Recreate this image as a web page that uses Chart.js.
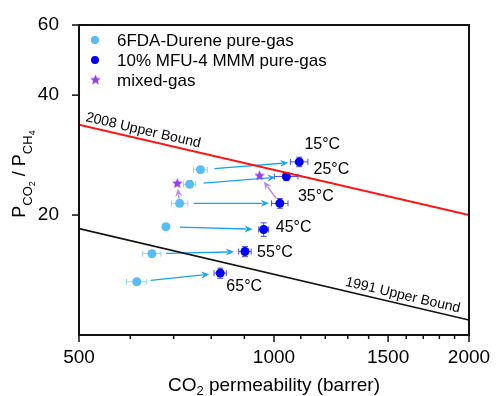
<!DOCTYPE html>
<html>
<head>
<meta charset="utf-8">
<script src="https://cdn.jsdelivr.net/npm/chart.js@4.4.0/dist/chart.umd.min.js"></script>
<style>
  html, body { margin: 0; padding: 0; background: #fff; }
  #wrap { width: 497px; height: 396px; }
</style>
</head>
<body>
<div id="wrap"><canvas id="c"></canvas></div>
<script>
// ---------- data ----------
const temps   = ['15°C', '25°C', '35°C', '45°C', '55°C', '65°C'];
const durX    = [770, 741, 715, 681, 648, 614];          // 6FDA-Durene, CO2 permeability
const durY    = [26.0, 23.9, 21.4, 18.7, 16.0, 13.6];    // CO2/CH4 selectivity
const durXErr = [19, 16, 21, 6, 21, 22];
const durYErr = [0.4, 0.4, 0.35, 0.2, 0.3, 0.25];
const mmmX    = [1094, 1045, 1021, 964, 902, 826];       // 10% MFU-4 MMM
const mmmY    = [27.2, 25.0, 21.4, 18.4, 16.2, 14.3];
const mmmXErr = [34, 44, 30, 17, 20, 18];
const mmmYErr = [0.75, 0.6, 0.6, 0.72, 0.47, 0.42];
const mixX    = [709, 950];                              // mixed-gas (35°C)
const mixY    = [24.0, 25.1];
const bound2008X = [500, 2000], bound2008Y = [33.7, 20.0];
const bound1991X = [500, 2000], bound1991Y = [18.5, 10.9];
const xTicks = [500, 1000, 1500, 2000];
const yTicks = [20, 40, 60];

// ---------- styles ----------
const FONT = 'Arial, "Liberation Sans", sans-serif';
const LIGHT = '#56bdf6', LIGHT_ERR = '#8fd2fb';
const DARK = '#0000f5', DARK_ERR = '#4a4aff';
const PURPLE = '#9a3cf2', PURPLE_ARROW = '#b98af5';
const ARROW = '#18a4f2';

const pts = (xs, ys) => xs.map((x, i) => ({ x, y: ys[i] }));

function starImg(r, color) {
  const c = document.createElement('canvas');
  c.width = c.height = r * 2 + 2;
  const g = c.getContext('2d');
  g.fillStyle = color;
  g.beginPath();
  for (let i = 0; i < 10; i++) {
    const a = -Math.PI / 2 + i * Math.PI / 5, rr = i % 2 ? r * 0.45 : r;
    g.lineTo(r + 1 + rr * Math.cos(a), r + 1 + rr * Math.sin(a));
  }
  g.closePath(); g.fill();
  return c;
}
const STAR = starImg(5.5, PURPLE);

function arrow(ctx, x0, y0, x1, y1, g0, g1, color) {
  const dx = x1 - x0, dy = y1 - y0, L = Math.hypot(dx, dy), ux = dx / L, uy = dy / L;
  const sx = x0 + ux * g0, sy = y0 + uy * g0, ex = x1 - ux * g1, ey = y1 - uy * g1;
  const hl = 8, hw = 3.5;
  ctx.strokeStyle = color; ctx.fillStyle = color; ctx.lineWidth = 1.4;
  ctx.beginPath(); ctx.moveTo(sx, sy); ctx.lineTo(ex - ux * hl * 0.8, ey - uy * hl * 0.8); ctx.stroke();
  ctx.beginPath();
  ctx.moveTo(ex, ey);
  ctx.lineTo(ex - ux * hl - uy * hw, ey - uy * hl + ux * hw);
  ctx.lineTo(ex - ux * hl * 0.7, ey - uy * hl * 0.7);
  ctx.lineTo(ex - ux * hl + uy * hw, ey - uy * hl - ux * hw);
  ctx.closePath(); ctx.fill();
}

function errBars(ctx, sx, sy, xs, ys, xe, ye, color) {
  ctx.strokeStyle = color; ctx.lineWidth = 1;
  xs.forEach((v, i) => {
    const px = sx.getPixelForValue(v), py = sy.getPixelForValue(ys[i]);
    const xa = sx.getPixelForValue(v - xe[i]), xb = sx.getPixelForValue(v + xe[i]);
    const ya = sy.getPixelForValue(ys[i] + ye[i]), yb = sy.getPixelForValue(ys[i] - ye[i]);
    ctx.beginPath();
    ctx.moveTo(xa, py); ctx.lineTo(xb, py);
    ctx.moveTo(xa, py - 3); ctx.lineTo(xa, py + 3);
    ctx.moveTo(xb, py - 3); ctx.lineTo(xb, py + 3);
    ctx.moveTo(px, ya); ctx.lineTo(px, yb);
    ctx.moveTo(px - 3, ya); ctx.lineTo(px + 3, ya);
    ctx.moveTo(px - 3, yb); ctx.lineTo(px + 3, yb);
    ctx.stroke();
  });
}

// rich text with subscripts, centred on (cx, cy) at the current transform
function richText(ctx, parts, cx, cy) {
  let w = 0;
  parts.forEach(p => { ctx.font = p.size + 'px ' + FONT; p.w = ctx.measureText(p.t).width; w += p.w; });
  let x = cx - w / 2;
  ctx.textBaseline = 'alphabetic'; ctx.textAlign = 'left';
  parts.forEach(p => { ctx.font = p.size + 'px ' + FONT; ctx.fillText(p.t, x, cy + p.dy); x += p.w; });
}

function lineLabel(ctx, sx, sy, xs, ys, atX, text, align) {
  const x0 = sx.getPixelForValue(xs[0]), y0 = sy.getPixelForValue(ys[0]);
  const x1 = sx.getPixelForValue(xs[1]), y1 = sy.getPixelForValue(ys[1]);
  const ang = Math.atan2(y1 - y0, x1 - x0);
  const py = y0 + (atX - x0) * (y1 - y0) / (x1 - x0);
  ctx.save();
  ctx.translate(atX, py); ctx.rotate(ang);
  ctx.font = '14px ' + FONT; ctx.fillStyle = '#000';
  ctx.textAlign = align; ctx.textBaseline = 'alphabetic';
  ctx.fillText(text, 0, -5);
  ctx.restore();
}

const deco = {
  id: 'deco',
  beforeDatasetsDraw(chart) {
    const { ctx, scales: { x, y } } = chart;
    ctx.save();
    errBars(ctx, x, y, durX, durY, durXErr, durYErr, LIGHT_ERR);
    errBars(ctx, x, y, mmmX, mmmY, mmmXErr, mmmYErr, DARK_ERR);
    durX.forEach((v, i) => arrow(ctx, x.getPixelForValue(v), y.getPixelForValue(durY[i]),
      x.getPixelForValue(mmmX[i]), y.getPixelForValue(mmmY[i]), 14, 11, ARROW));
    arrow(ctx, x.getPixelForValue(durX[2]), y.getPixelForValue(durY[2]),
      x.getPixelForValue(mixX[0]), y.getPixelForValue(mixY[0]), 5, 5, PURPLE_ARROW);
    arrow(ctx, x.getPixelForValue(mmmX[2]), y.getPixelForValue(mmmY[2]),
      x.getPixelForValue(mixX[1]), y.getPixelForValue(mixY[1]), 6, 7, PURPLE_ARROW);
    ctx.restore();
  },
  afterDraw(chart) {
    const { ctx, chartArea: a, scales: { x, y } } = chart;
    ctx.save();
    // frame
    ctx.strokeStyle = '#111'; ctx.lineWidth = 2;
    ctx.strokeRect(a.left, a.top, a.right - a.left, a.bottom - a.top);
    // x ticks: majors labelled, minors every 100
    ctx.lineWidth = 1.5;
    for (let v = 500; v <= 2000; v += 100) {
      const px = x.getPixelForValue(v), len = xTicks.includes(v) ? 7 : 4;
      ctx.beginPath(); ctx.moveTo(px, a.bottom); ctx.lineTo(px, a.bottom + len); ctx.stroke();
    }
    yTicks.forEach(v => {
      const py = y.getPixelForValue(v);
      ctx.beginPath(); ctx.moveTo(a.left, py); ctx.lineTo(a.left - 7, py); ctx.stroke();
    });
    // bound labels
    lineLabel(ctx, x, y, bound2008X, bound2008Y, a.left + 5, '2008 Upper Bound', 'left');
    lineLabel(ctx, x, y, bound1991X, bound1991Y, a.right - 11, '1991 Upper Bound', 'right');
    // temperature labels next to MMM points
    const off = [[23, -17], [45, -7], [36, -7], [30, -2], [30, 1], [24, 13]];
    ctx.fillStyle = '#000'; ctx.font = '16px ' + FONT;
    ctx.textAlign = 'center'; ctx.textBaseline = 'middle';
    temps.forEach((t, i) => ctx.fillText(t,
      x.getPixelForValue(mmmX[i]) + off[i][0], y.getPixelForValue(mmmY[i]) + off[i][1]));
    // legend
    const leg = [['c', LIGHT, '6FDA-Durene pure-gas'], ['c', DARK, '10% MFU-4 MMM pure-gas'], ['s', PURPLE, 'mixed-gas']];
    ctx.font = '17px ' + FONT; ctx.textAlign = 'left';
    leg.forEach(([k, col, txt], i) => {
      const ly = a.top + 15 + i * 20;
      if (k === 'c') { ctx.fillStyle = col; ctx.beginPath(); ctx.arc(a.left + 16, ly, 4, 0, Math.PI * 2); ctx.fill(); }
      else ctx.drawImage(STAR, a.left + 16 - STAR.width / 2 + 0.5, ly - STAR.height / 2);
      ctx.fillStyle = '#000'; ctx.fillText(txt, a.left + 38, ly + 1);
    });
    // axis titles
    ctx.fillStyle = '#000';
    richText(ctx, [{ t: 'CO', size: 19, dy: 0 }, { t: '2', size: 13, dy: 4 },
      { t: ' permeability (barrer)', size: 19, dy: 0 }], (a.left + a.right) / 2, 391);
    ctx.save();
    ctx.translate(25, 174); ctx.rotate(-Math.PI / 2);
    richText(ctx, [{ t: 'P', size: 18, dy: 0 }, { t: 'CO', size: 13, dy: 7 }, { t: '2', size: 9, dy: 10 },
      { t: ' / ', size: 18, dy: 0 }, { t: 'P', size: 18, dy: 0 }, { t: 'CH', size: 13, dy: 7 },
      { t: '4', size: 9, dy: 10 }], 0, 0);
    ctx.restore();
    ctx.restore();
  }
};

Chart.defaults.font.family = FONT;
Chart.defaults.color = '#000';

new Chart(document.getElementById('c'), {
  type: 'scatter',
  data: {
    datasets: [
      { type: 'line', data: pts(bound2008X, bound2008Y), borderColor: '#ff1414', borderWidth: 2, pointRadius: 0 },
      { type: 'line', data: pts(bound1991X, bound1991Y), borderColor: '#111', borderWidth: 1.6, pointRadius: 0 },
      { label: '6FDA-Durene pure-gas', data: pts(durX, durY), backgroundColor: LIGHT, borderWidth: 0, pointRadius: 4.5 },
      { label: '10% MFU-4 MMM pure-gas', data: pts(mmmX, mmmY), backgroundColor: DARK, borderWidth: 0, pointRadius: 4.5 },
      { label: 'mixed-gas', data: pts(mixX, mixY), pointStyle: STAR, pointRadius: 6 },
    ]
  },
  options: {
    responsive: true, maintainAspectRatio: false, animation: false,
    layout: { padding: { top: 25, right: 28, left: 0, bottom: 0 } },
    plugins: { legend: { display: false }, tooltip: { enabled: false } },
    scales: {
      x: {
        type: 'logarithmic', min: 500, max: 2000,
        grid: { display: false }, border: { display: false },
        afterBuildTicks: s => { s.ticks = xTicks.map(v => ({ value: v })); },
        afterFit: s => { s.height = 61; },
        ticks: { autoSkip: false, maxRotation: 0, padding: 3, font: { size: 19 }, callback: v => String(v) }
      },
      y: {
        type: 'logarithmic', min: 10, max: 60,
        grid: { display: false }, border: { display: false },
        afterBuildTicks: s => { s.ticks = yTicks.map(v => ({ value: v })); },
        afterFit: s => { s.width = 79; },
        ticks: { autoSkip: false, padding: 12, font: { size: 19 }, callback: v => String(v) }
      }
    }
  },
  plugins: [deco]
});
</script>
</body>
</html>
